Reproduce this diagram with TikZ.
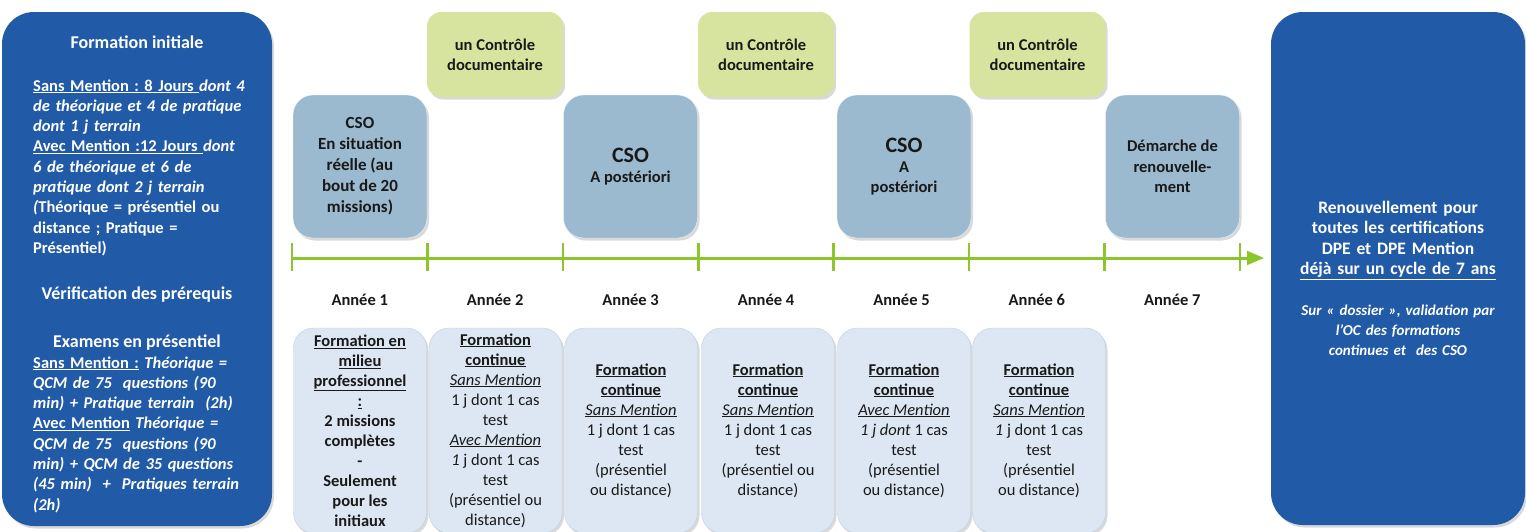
\documentclass[tikz,border=0pt]{standalone}
\usepackage{fontspec}
\setmainfont{Carlito}
\frenchspacing
\usetikzlibrary{positioning}
\usetikzlibrary{arrows, shadows}

\definecolor{darkblue}{RGB}{33,90,166}
\definecolor{ctrlgreen}{RGB}{215,228,160}
\definecolor{csoblue}{RGB}{155,186,207}
\definecolor{formblue}{RGB}{221,231,243}
\definecolor{formedge}{RGB}{190,208,228}
\definecolor{linegreen}{RGB}{140,198,45}
\definecolor{darktext}{RGB}{25,25,25}

\begin{document}
\begin{tikzpicture}[x=1pt,y=-1pt]
    \clip (0,0) rectangle (1526,531);
    \useasboundingbox (0,0) rectangle (1526,531);

    \tikzstyle{every node} = [inner sep=0pt, align=center, text=darktext, font=\fontsize{16.5}{20.3}\selectfont\bfseries];
    \tikzstyle{shade} = [drop shadow={shadow xshift=2pt, shadow yshift=-2.5pt, opacity=0.3}];
    \tikzstyle{sidebox} = [rectangle, rounded corners=32pt, fill=darkblue, shade];
    \tikzstyle{ctrlbox} = [rectangle, rounded corners=14pt, fill=ctrlgreen, minimum width=136, minimum height=85, shade];
    \tikzstyle{csobox} = [rectangle, rounded corners=20pt, fill=csoblue, draw=white!85!csoblue, minimum width=134, minimum height=143, shade];
    \tikzstyle{formbox} = [rectangle, rounded corners=20pt, fill=formblue, draw=formedge, minimum width=133, minimum height=205, shade, font=\fontsize{16.5}{20}\selectfont];
    \tikzstyle{wtext} = [text=white];

    % bloc de gauche
    \node[sidebox, minimum width=270, minimum height=514] (initiale) at (137,269) {};
    \node[wtext, font=\fontsize{18}{21}\selectfont\bfseries] (titre) at (137,42) {Formation initiale};
    \node[wtext, anchor=base west, text width=235, align=left] (jours) at (33,91)
        {\underline{Sans Mention : 8 Jours }\textit{dont 4}\\
         \textit{de théorique et 4 de pratique}\\
         \textit{dont 1 j terrain}\\
         \underline{Avec Mention :12 Jours }\textit{dont}\\
         \textit{6 de théorique et 6 de}\\
         \textit{pratique dont 2 j terrain}\\
         \textit{(}Théorique = présentiel ou\\
         distance ; Pratique =\\
         Présentiel)};
    \node[wtext, font=\fontsize{18}{21}\selectfont\bfseries] (verif) at (137,295) {Vérification des prérequis};
    \node[wtext, font=\fontsize{18}{21}\selectfont\bfseries] (examens) at (137,343) {Examens en présentiel};
    \node[wtext, anchor=base west, text width=235, align=left] (epreuves) at (33,368)
        {\underline{Sans Mention :} \textit{Théorique =}\\
         \textit{QCM de 75\ \ questions (90}\\
         \textit{min) + Pratique terrain\ \ (2h)}\\
         \underline{Avec Mention} \textit{Théorique =}\\
         \textit{QCM de 75\ \ questions (90}\\
         \textit{min) + QCM de 35 questions}\\
         \textit{(45 min)\ \ +\ \ Pratiques terrain}\\
         \textit{(2h)}};

    % bloc de droite
    \node[sidebox, minimum width=254, minimum height=513] (renouv) at (1398,268.5) {};
    \node[wtext, anchor=base, text width=250, font=\fontsize{17.5}{20.5}\selectfont\bfseries] (cycle) at (1398,213)
        {Renouvellement pour\\
         toutes les certifications\\
         DPE et DPE Mention\\
         \underline{déjà sur un cycle de 7 ans}};
    \node[wtext, anchor=base, text width=250, font=\fontsize{15}{20}\selectfont\bfseries\itshape] (dossier) at (1398,315)
        {Sur « dossier », validation par\\
         l’OC des formations\\
         continues et\ \ des CSO};

    % controles documentaires
    \node[ctrlbox] (ctrl1) at (495,54.5) {un Contrôle\\documentaire};
    \node[ctrlbox] (ctrl2) at (766,54.5) {un Contrôle\\documentaire};
    \node[ctrlbox] (ctrl3) at (1037.5,54.5) {un Contrôle\\documentaire};

    % CSO
    \node[csobox, font=\fontsize{17}{21}\selectfont\bfseries] (cso1) at (360,166.5)
        {CSO\\En situation\\réelle (au\\bout de 20\\missions)};
    \node[csobox] (cso2) at (630.5,166.5)
        {{\fontsize{22}{26}\selectfont CSO}\\A postériori};
    \node[csobox] (cso3) at (904,166.5)
        {{\fontsize{22}{24}\selectfont CSO}\\A\\postériori};
    \node[csobox] (demarche) at (1172.5,166.5)
        {Démarche de\\renouvelle-\\ment};

    % frise
    \foreach \i in {0,...,7}
        \coordinate (t\i) at (292+135.43*\i,258);
    \coordinate (tfin) at (1264,258);
    \draw[linegreen, line width=3pt, -triangle 45] (t0) -- (tfin);
    \foreach \i in {0,...,7}
        \draw[linegreen, line width=2.5pt] ([yshift=15pt]t\i) -- ([yshift=-13pt]t\i);
    \foreach \i in {1,...,7}
        \node (annee\i) at (292+135.43*\i-67.7,300) {Année \i};

    % formations
    \node[formbox] (form1) at (360,430.5)
        {\textbf{\underline{Formation en}}\\\textbf{\underline{milieu}}\\\textbf{\underline{professionnel}}\\\textbf{\underline{:}}\\
         \textbf{2 missions}\\\textbf{complètes}\\\textbf{-}\\\textbf{Seulement}\\\textbf{pour les}\\\textbf{initiaux}};
    \node[formbox] (form2) at (495.5,430.5)
        {\textbf{\underline{Formation}}\\\textbf{\underline{continue}}\\\textit{\underline{Sans Mention}}\\1 j dont 1 cas\\test\\
         \textit{\underline{Avec Mention}}\\\textit{1} j dont 1 cas\\test\\(présentiel ou\\distance)};
    \node[formbox] (form3) at (631,430.5)
        {\textbf{\underline{Formation}}\\\textbf{\underline{continue}}\\\textit{\underline{Sans Mention}}\\1 j dont 1 cas\\test\\(présentiel\\ou distance)};
    \node[formbox] (form4) at (768,430.5)
        {\textbf{\underline{Formation}}\\\textbf{\underline{continue}}\\\textit{\underline{Sans Mention}}\\1 j dont 1 cas\\test\\(présentiel ou\\distance)};
    \node[formbox] (form5) at (904,430.5)
        {\textbf{\underline{Formation}}\\\textbf{\underline{continue}}\\\textit{\underline{Avec Mention}}\\\textit{1 j dont} 1 cas\\test\\(présentiel\\ou distance)};
    \node[formbox] (form6) at (1039,430.5)
        {\textbf{\underline{Formation}}\\\textbf{\underline{continue}}\\\textit{\underline{Sans Mention}}\\\textit{1} j dont 1 cas\\test\\(présentiel\\ou distance)};
\end{tikzpicture}
\end{document}
